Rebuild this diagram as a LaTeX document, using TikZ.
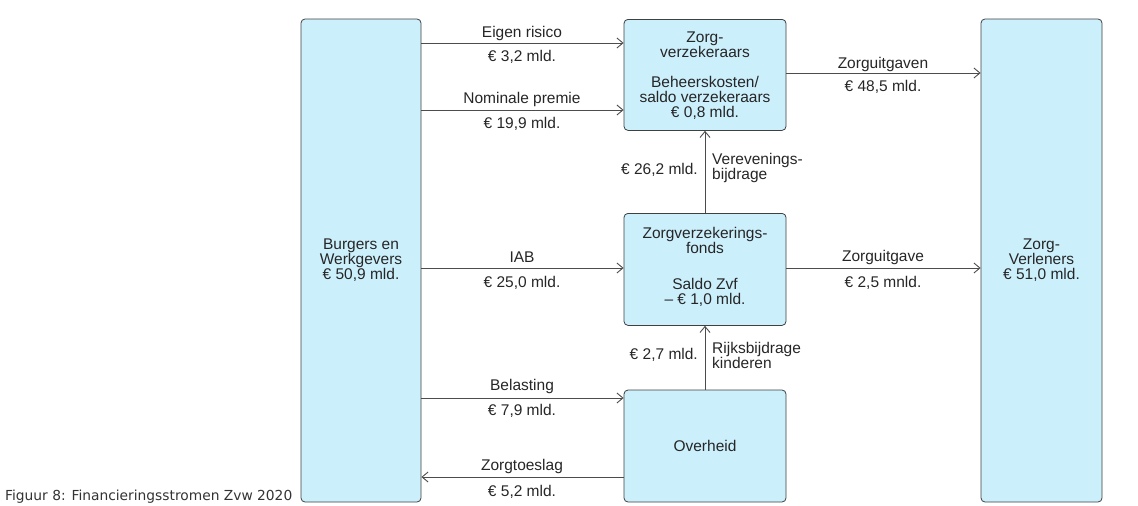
\documentclass[tikz,border=0pt]{standalone}
\usepackage{fontspec}
\setmainfont{Liberation Sans}
\newfontfamily\capfont{DejaVu Sans}
\usetikzlibrary{arrows.meta}
\tikzset{
    blok/.style={draw=black!75, fill=cyan!20!white, rounded corners=4pt, line width=0.8pt, align=center, inner sep=0pt},
    stroom/.style={-{Straight Barb[length=6pt,width=10pt]}, black!70, line width=0.9pt},
    lbl/.style={font=\fontsize{15.5}{15}\selectfont, text=black!85, inner sep=1pt}
}
\begin{document}
\begin{tikzpicture}[x=1pt,y=-1pt]
    \useasboundingbox (0,0) rectangle (1138,506);
    % Boxes
    \node[blok, minimum width=120, minimum height=483, lbl] (bw) at (361,260.5) {Burgers en\\Werkgevers\\€ 50,9 mld.};
    \node[blok, minimum width=162, minimum height=111, lbl, anchor=north] (zv) at (705,19) {};
    \node[lbl, align=center] at (705,45) {Zorg-\\verzekeraars};
    \node[lbl, align=center] at (705,98) {Beheerskosten/\\saldo verzekeraars\\€ 0,8 mld.};
    \node[blok, minimum width=162, minimum height=112, lbl, anchor=north] (zvf) at (705,213) {};
    \node[lbl, align=center] at (705,240) {Zorgverzekerings-\\fonds};
    \node[lbl, align=center] at (705,292) {Saldo Zvf\\– € 1,0 mld.};
    \node[blok, minimum width=162, minimum height=112, lbl] (oh) at (705,446) {Overheid};
    \node[blok, minimum width=121, minimum height=483, lbl] (zl) at (1041.5,260.5) {Zorg-\\Verleners\\€ 51,0 mld.};
    \node[anchor=south west, inner sep=0pt, font=\capfont\fontsize{13.8}{14}\selectfont, black!80] (cap) at (5,504) {Figuur 8: Financieringsstromen Zvw 2020};

    % Horizontal flows
    \draw[stroom] (bw.east |- 0,43) -- (zv.west |- 0,43);
    \node[lbl] at (522,33) {Eigen risico}; \node[lbl] at (522,57) {€ 3,2 mld.};
    \draw[stroom] (bw.east |- 0,110) -- (zv.west |- 0,110);
    \node[lbl] at (522,99) {Nominale premie}; \node[lbl] at (522,124) {€ 19,9 mld.};
    \draw[stroom] (zv.east |- 0,73) -- (zl.west |- 0,73);
    \node[lbl] at (883,64) {Zorguitgaven}; \node[lbl] at (883,87) {€ 48,5 mld.};
    \draw[stroom] (bw.east |- 0,268) -- (zvf.west |- 0,268);
    \node[lbl] at (522,257) {IAB}; \node[lbl] at (522,283) {€ 25,0 mld.};
    \draw[stroom] (zvf.east |- 0,268) -- (zl.west |- 0,268);
    \node[lbl] at (883,257) {Zorguitgave}; \node[lbl] at (883,283) {€ 2,5 mnld.};
    \draw[stroom] (bw.east |- 0,398) -- (oh.west |- 0,398);
    \node[lbl] at (522,386) {Belasting}; \node[lbl] at (522,411) {€ 7,9 mld.};
    \draw[stroom] (oh.west |- 0,477) -- (bw.east |- 0,477);
    \node[lbl] at (522,466) {Zorgtoeslag}; \node[lbl] at (522,492) {€ 5,2 mld.};

    % Vertical flows
    \draw[stroom] (zvf.north) -- (zv.south);
    \node[lbl, anchor=east] at (699,170) {€ 26,2 mld.};
    \node[lbl, anchor=west, align=left] at (711,168) {Verevenings-\\bijdrage};
    \draw[stroom] (oh.north) -- (zvf.south);
    \node[lbl, anchor=east] at (699,355) {€ 2,7 mld.};
    \node[lbl, anchor=west, align=left] at (711,355) {Rijksbijdrage\\kinderen};
\end{tikzpicture}
\end{document}
